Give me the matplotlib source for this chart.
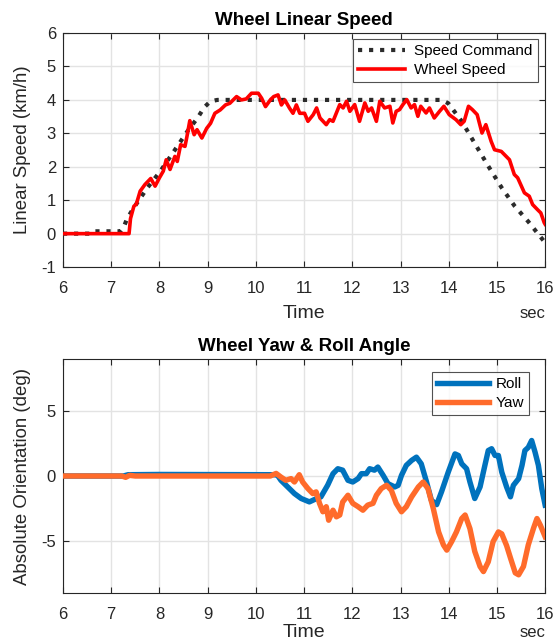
import matplotlib
matplotlib.use("Agg")
import matplotlib.pyplot as plt

plt.rcParams['font.family'] = ['Liberation Sans', 'DejaVu Sans']
plt.rcParams['axes.unicode_minus'] = False

# ---------------- data ----------------
cmd_t = [6.0, 6.55, 6.62, 7.19, 7.26, 7.33, 7.47, 7.75, 8.02, 8.30, 8.58, 8.79, 8.93, 9.03,
         9.10, 9.20, 13.85, 13.99, 14.27, 14.54, 14.82, 15.10, 15.37, 15.65, 15.86, 16.0]
cmd_v = [0.0, 0.0, 0.07, 0.07, 0.2, 0.45, 0.78, 1.37, 1.87, 2.46, 3.06, 3.46, 3.78, 3.92,
         3.97, 4.0, 4.0, 3.9, 3.36, 2.7, 2.02, 1.37, 0.82, 0.36, -0.02, -0.27]

spd_t = [6.0, 7.37, 7.40, 7.47, 7.52, 7.60, 7.70, 7.82, 7.91, 8.00, 8.08, 8.14, 8.22, 8.32,
         8.37, 8.44, 8.53, 8.57, 8.63, 8.72, 8.78, 8.88, 8.98, 9.06, 9.15, 9.26, 9.37,
         9.46, 9.60, 9.70, 9.80, 9.91, 10.05, 10.12, 10.20, 10.30, 10.37, 10.46, 10.53,
         10.60, 10.70, 10.77, 10.84, 10.91, 11.01, 11.08, 11.19, 11.26, 11.33, 11.46,
         11.53, 11.60, 11.74, 11.81, 11.88, 11.95, 12.05, 12.15, 12.26, 12.33, 12.40,
         12.50, 12.57, 12.67, 12.78, 12.84, 12.91, 12.98, 13.05, 13.13, 13.22, 13.29,
         13.36, 13.42, 13.53, 13.60, 13.70, 13.81, 13.90, 14.01, 14.15, 14.25, 14.32,
         14.41, 14.49, 14.59, 14.69, 14.77, 14.88, 14.95, 15.09, 15.26, 15.36, 15.43,
         15.57, 15.67, 15.74, 15.84, 15.91, 15.98, 16.0]
spd_v = [0.0, 0.0, 0.45, 0.82, 0.88, 1.27, 1.47, 1.65, 1.42, 1.67, 1.87, 2.21, 1.92, 2.31,
         2.16, 2.66, 2.61, 2.90, 3.38, 2.96, 3.11, 2.86, 3.15, 3.30, 3.60, 3.70, 3.85,
         3.90, 4.10, 4.00, 4.03, 4.20, 4.20, 4.05, 3.80, 4.00, 4.10, 4.15, 3.85, 4.00,
         3.75, 3.60, 3.85, 3.60, 3.60, 3.36, 3.56, 3.76, 3.46, 3.26, 3.41, 3.36, 3.86,
         3.76, 3.96, 3.66, 3.86, 3.36, 3.91, 3.66, 3.76, 3.36, 3.96, 3.76, 3.81, 3.31,
         3.66, 3.71, 3.86, 4.01, 3.76, 3.86, 3.51, 3.81, 3.61, 3.76, 3.46, 3.66, 3.81,
         3.56, 3.41, 3.26, 3.36, 3.81, 3.71, 3.56, 3.01, 3.26, 2.76, 2.51, 2.46, 2.21,
         1.77, 1.67, 1.22, 1.12, 0.87, 0.72, 0.62, 0.33, 0.28]

roll_t = [6.0, 7.25, 7.35, 8.0, 10.38, 10.45, 10.52, 10.66, 10.80, 10.94, 11.11, 11.25,
          11.35, 11.49, 11.60, 11.70, 11.80, 11.91, 12.01, 12.12, 12.19, 12.29, 12.36,
          12.46, 12.53, 12.64, 12.74, 12.88, 12.95, 13.02, 13.12, 13.23, 13.33, 13.43,
          13.54, 13.64, 13.75, 13.85, 13.99, 14.13, 14.20, 14.27, 14.37, 14.44, 14.54,
          14.65, 14.75, 14.82, 14.89, 14.96, 15.03, 15.10, 15.20, 15.28, 15.34, 15.45,
          15.52, 15.58, 15.65, 15.72, 15.79, 15.86, 15.93, 16.0]
roll_v = [0.0, 0.0, 0.1, 0.12, 0.1, 0.05, -0.33, -0.84, -1.35, -1.73, -1.99, -1.75,
          -1.60, -0.70, 0.18, 0.56, 0.45, -0.33, -0.46, -0.20, 0.18, 0.18, 0.56,
          0.45, 0.69, 0.05, -0.59, -0.84, -0.72, 0.05, 0.82, 1.20, 1.45, 0.94,
          -0.46, -1.86, -2.20, -1.22, 0.30, 1.70, 1.58, 0.94, 0.56, -0.46, -1.73,
          -0.84, 0.82, 1.96, 2.10, 1.58, 1.58, 0.30, -0.84, -1.60, -0.72, -0.20,
          0.82, 1.96, 2.20, 2.73, 1.84, 0.82, -0.97, -2.24]

yaw_t = [6.0, 7.22, 7.30, 7.38, 7.5, 10.30, 10.42, 10.52, 10.62, 10.73, 10.80, 10.90,
         10.97, 11.08, 11.18, 11.25, 11.32, 11.39, 11.46, 11.51, 11.60, 11.67, 11.74,
         11.80, 11.91, 12.01, 12.12, 12.22, 12.32, 12.43, 12.50, 12.60, 12.71, 12.81,
         12.91, 13.02, 13.12, 13.23, 13.37, 13.47, 13.57, 13.68, 13.79, 13.89, 13.96,
         14.06, 14.16, 14.27, 14.34, 14.44, 14.54, 14.65, 14.72, 14.82, 14.92, 15.03,
         15.10, 15.20, 15.28, 15.38, 15.45, 15.55, 15.65, 15.76, 15.83, 15.90, 16.0]
yaw_v = [0.0, 0.0, -0.1, 0.05, 0.0, 0.0, 0.2, -0.08, -0.33, -0.2, -0.46, 0.1,
         -0.46, -0.97, -1.35, -1.22, -2.10, -2.75, -2.36, -3.40, -2.63, -3.14, -3.0,
         -2.0, -1.48, -2.10, -2.36, -2.63, -2.24, -2.10, -1.48, -0.97, -0.71, -1.10,
         -2.10, -2.75, -2.36, -1.61, -0.84, -0.46, -0.97, -2.5, -4.30, -5.30, -5.70,
         -5.05, -4.30, -3.27, -3.0, -4.05, -5.80, -6.96, -7.35, -6.60, -5.05, -4.30,
         -4.45, -5.35, -6.30, -7.45, -7.60, -6.96, -5.30, -4.0, -3.27, -3.78, -4.67]

xticks = [6, 7, 8, 9, 10, 11, 12, 13, 14, 15, 16]
yticks_top = [-1, 0, 1, 2, 3, 4, 5, 6]
yticks_bot = [-5, 0, 5]

# ---------------- figure ----------------
fig = plt.figure(figsize=(5.6, 6.42), dpi=100)
txt = '#262626'

ax1 = fig.add_axes([0.1125, 0.584, 0.861, 0.3645])
ax2 = fig.add_axes([0.1125, 0.0763, 0.861, 0.3645])


def style(ax, title, ylabel, label_y):
    ax.set_xlim(6, 16)
    ax.set_xticks(xticks)
    ax.grid(True, color='#e3e3e3', linewidth=1.0)
    ax.set_axisbelow(True)
    ax.tick_params(direction='in', length=4, width=0.8, colors=txt, labelsize=12,
                   top=True, right=True)
    ax.tick_params(axis='x', pad=10)
    ax.tick_params(axis='y', pad=5)
    for s in ax.spines.values():
        s.set_color(txt)
        s.set_linewidth(0.8)
    ax.set_title(title, fontsize=13.5, fontweight='bold', pad=6)
    ax.set_ylabel(ylabel, fontsize=13.4, color=txt, va='center')
    ax.yaxis.set_label_coords(-0.083, 0.5)
    ax.text(0.5, label_y, 'Time', transform=ax.transAxes, ha='center', va='center',
            fontsize=14, color=txt)
    ax.text(1.0, label_y, 'sec', transform=ax.transAxes, ha='right', va='center',
            fontsize=12, color=txt)


style(ax1, 'Wheel Linear Speed', 'Linear Speed (km/h)', -0.2)
ax1.set_ylim(-1, 6)
ax1.set_yticks(yticks_top)
ax1.plot(spd_t, spd_v, color='#ff0000', linewidth=2.6, label='Wheel Speed', zorder=3)
ax1.plot(cmd_t, cmd_v, color='#2b2b2b', linewidth=3.0, linestyle=':',
         dash_capstyle='butt', label='Speed Command', zorder=2)
h, l = ax1.get_legend_handles_labels()
leg1 = ax1.legend([h[1], h[0]], [l[1], l[0]], loc='upper right',
                  bbox_to_anchor=(0.9855, 0.974), borderaxespad=0.0, fontsize=11,
                  handlelength=3.1, frameon=True, fancybox=False, edgecolor=txt,
                  borderpad=0.35, labelspacing=0.3, handletextpad=0.6)
leg1.get_frame().set_linewidth(0.8)

style(ax2, 'Wheel Yaw & Roll Angle', 'Absolute Orientation (deg)', -0.17)
ax2.set_ylim(-9, 9)
ax2.set_yticks(yticks_bot)
ax2.plot(roll_t, roll_v, color='#0072bd', linewidth=3.9, label='Roll', zorder=2)
ax2.plot(yaw_t, yaw_v, color='#ff6b2b', linewidth=3.9, label='Yaw', zorder=3)
leg2 = ax2.legend(loc='upper right', bbox_to_anchor=(0.967, 0.944), borderaxespad=0.0,
                  fontsize=11, handlelength=3.4, frameon=True, fancybox=False,
                  edgecolor=txt, borderpad=0.35, labelspacing=0.3, handletextpad=0.4)
leg2.get_frame().set_linewidth(0.8)

fig.savefig('out.png', dpi=100)
